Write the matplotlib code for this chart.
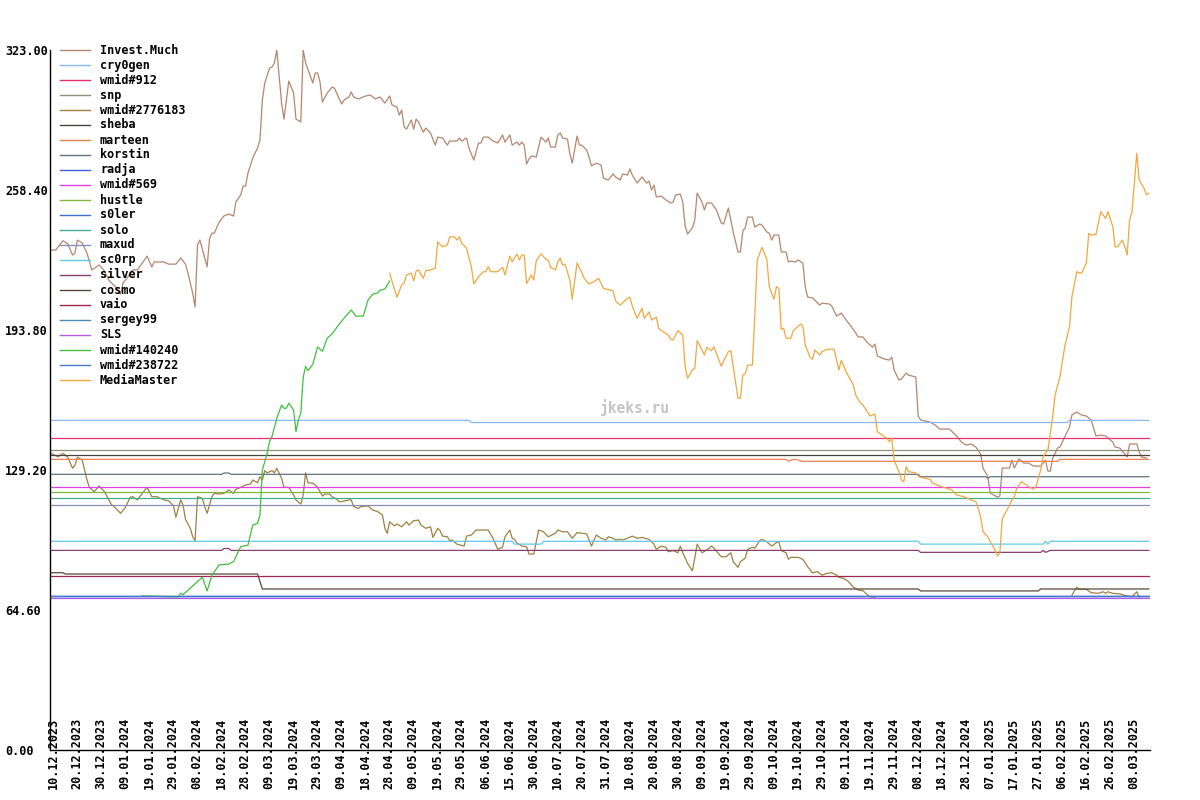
import matplotlib
matplotlib.use("Agg")
import matplotlib.pyplot as plt
from matplotlib.lines import Line2D

nan = float("nan")

# x is the point number (one point per recorded day, days with no data are skipped)
# (point, value)
invest_much = [(0, 230.7), (2, 230.7), (5, 235.0), (7, 233.5), (9, 228.4), (10, 229.3), (11, 235.3), (13, 233.9),
               (15, 229.3), (17, 221.5), (20, 223.8), (22, 221.5), (24, 216.9), (27, 213.6), (29, 210.4), (30, 215.5),
               (32, 218.2), (34, 221.5), (36, 221.5), (38, 224.7), (40, 227.9), (42, 222.9), (43, 225.2), (47, 225.2),
               (49, 224.2), (52, 224.2), (54, 227.0), (56, 224.2), (57, 220.1), (59, 210.8), (60, 204.4), (61, 233.0),
               (62, 235.3), (65, 222.9), (66, 235.8), (67, 238.5), (68, 238.5), (70, 243.6), (72, 246.4), (74, 247.3),
               (76, 246.4), (77, 252.9), (79, 256.1), (80, 260.2), (81, 260.2), (82, 266.2), (84, 273.2), (86, 277.8),
               (87, 281.5), (88, 299.9), (89, 307.8), (91, 314.7), (92, 315.1), (93, 317.0), (94, 323.0), (95, 310.5),
               (96, 298.5), (97, 291.1), (99, 308.7), (101, 303.1), (102, 291.1), (104, 289.8), (105, 323.0),
               (106, 317.0), (109, 307.8), (110, 312.4), (111, 312.4), (112, 308.2), (113, 299.0), (115, 303.1),
               (117, 305.9), (118, 305.4), (121, 298.1), (122, 299.9), (124, 301.3), (125, 303.6), (126, 301.3),
               (128, 300.4), (131, 301.8), (133, 302.2), (135, 300.4), (137, 301.3), (139, 298.5), (141, 301.8),
               (142, 297.6), (144, 296.7), (145, 293.0), (146, 295.3), (147, 287.5), (148, 286.5), (150, 290.7),
               (151, 286.5), (152, 291.1), (153, 289.8), (155, 285.1), (156, 287.0), (158, 284.7), (160, 279.1),
               (161, 282.8), (163, 282.4), (165, 279.1), (166, 281.0), (169, 281.0), (170, 282.4), (171, 281.0),
               (173, 282.4), (174, 277.8), (176, 272.2), (178, 280.1), (179, 280.1), (180, 282.8), (182, 282.8),
               (184, 281.0), (186, 280.1), (188, 283.8), (189, 280.5), (191, 283.8), (192, 279.1), (194, 280.5),
               (195, 279.1), (196, 280.5), (197, 279.1), (198, 270.4), (199, 272.7), (200, 274.1), (202, 273.6),
               (203, 278.2), (204, 282.8), (206, 280.5), (207, 282.4), (208, 278.2), (210, 278.2), (211, 283.8),
               (212, 284.7), (213, 282.4), (215, 281.9), (216, 275.1), (217, 270.8), (219, 283.3), (220, 279.1),
               (221, 279.1), (223, 276.8), (224, 273.6), (225, 269.5), (227, 270.8), (229, 269.9), (230, 263.9),
               (232, 263.0), (234, 265.8), (235, 264.4), (237, 263.0), (238, 265.8), (240, 265.3), (241, 268.1),
               (242, 265.3), (244, 261.6), (246, 264.4), (248, 261.6), (249, 262.5), (250, 258.4), (251, 260.7),
               (252, 255.2), (254, 255.6), (256, 253.8), (258, 252.4), (259, 252.8), (260, 256.1), (262, 256.5),
               (263, 252.8), (264, 241.8), (265, 238.1), (267, 240.9), (268, 244.5), (269, 257.0), (271, 252.8),
               (272, 249.2), (273, 252.4), (275, 252.4), (277, 249.2), (279, 243.2), (280, 242.7), (282, 250.1),
               (284, 239.0), (286, 229.8), (287, 229.8), (288, 239.5), (289, 240.9), (290, 245.9), (292, 245.9),
               (293, 241.3), (295, 242.7), (296, 242.2), (298, 239.0), (299, 238.5), (300, 235.3), (301, 237.6),
               (303, 237.6), (304, 229.8), (306, 229.8), (307, 225.2), (308, 225.6), (310, 225.2), (311, 226.1),
               (313, 224.7), (314, 213.6), (315, 209.0), (317, 208.6), (318, 207.6), (320, 205.3), (321, 206.2),
               (324, 205.8), (325, 204.9), (327, 200.2), (329, 201.6), (331, 198.4), (333, 195.6), (335, 192.4),
               (336, 190.6), (338, 190.6), (340, 187.8), (342, 185.9), (343, 187.3), (344, 181.8), (347, 180.4),
               (349, 179.9), (350, 181.3), (351, 175.3), (353, 170.7), (354, 171.2), (356, 173.9), (357, 173.0),
               (360, 172.1), (361, 154.1), (362, 152.3), (364, 151.8), (366, 151.3), (368, 150.0), (370, 148.1),
               (374, 148.1), (377, 144.9), (379, 142.1), (381, 140.7), (383, 141.2), (385, 139.8), (387, 136.6),
               (388, 130.1), (390, 126.0), (391, 118.6), (394, 116.7), (395, 117.2), (396, 130.1), (399, 130.1),
               (400, 133.8), (401, 130.1), (403, 134.3), (405, 132.4), (407, 132.4), (409, 131.0), (412, 131.0),
               (414, 133.8), (415, 128.7), (416, 128.7), (417, 134.7), (419, 139.3), (420, 139.8), (422, 144.4),
               (424, 149.0), (425, 154.6), (427, 156.0), (429, 154.6), (431, 154.1), (433, 152.3), (435, 144.9),
               (437, 145.3), (439, 144.9), (442, 142.1), (443, 139.8), (445, 139.3), (448, 135.2), (449, 141.2),
               (452, 141.2), (453, 137.5), (454, 135.2), (456, 134.7)]

wmid_2776183 = [(0, 136.9), (3, 135.3), (5, 136.9), (7, 135.1), (9, 130.0), (10, 131.5), (11, 135.1), (13, 133.8),
                (15, 124.6), (16, 121.2), (18, 119.2), (20, 121.8), (22, 119.6), (23, 117.7), (25, 113.5), (27, 111.5),
                (29, 109.2), (31, 112.0), (33, 116.6), (34, 116.9), (36, 115.4), (38, 118.4), (40, 121.2), (42, 116.9),
                (44, 116.9), (47, 115.4), (49, 115.0), (51, 112.6), (52, 107.4), (54, 115.4), (55, 113.0), (56, 106.4),
                (58, 102.3), (59, 98.4), (60, 96.6), (61, 116.9), (63, 116.1), (64, 112.3), (65, 109.2), (67, 116.9),
                (68, 118.4), (70, 118.1), (72, 118.4), (74, 120.0), (76, 118.4), (77, 120.3), (79, 121.2), (81, 122.3),
                (83, 122.7), (84, 124.6), (86, 123.3), (87, 126.1), (88, 124.6), (89, 128.9), (90, 127.9), (92, 128.9),
                (93, 127.9), (94, 130.0), (96, 125.4), (97, 121.2), (99, 121.2), (101, 117.7), (102, 115.4),
                (104, 113.5), (105, 117.7), (106, 127.9), (107, 123.3), (109, 123.1), (110, 122.3), (111, 121.2),
                (113, 117.2), (114, 118.1), (116, 118.1), (117, 116.9), (119, 115.7), (120, 114.6), (121, 114.6),
                (124, 115.4), (125, 115.4), (126, 112.3), (128, 111.5), (129, 112.3), (132, 112.6), (134, 110.7),
                (136, 110.0), (138, 108.4), (139, 102.3), (140, 100.0), (141, 105.3), (143, 103.4), (144, 104.3),
                (146, 103.0), (148, 105.3), (149, 103.8), (151, 105.8), (153, 106.1), (154, 103.8), (156, 102.3),
                (158, 103.0), (159, 98.1), (161, 102.3), (162, 101.2), (163, 98.7), (165, 98.4), (166, 96.6),
                (167, 96.9), (169, 95.0), (172, 94.1), (173, 98.7), (175, 99.2), (177, 101.5), (182, 101.5),
                (184, 97.7), (186, 92.6), (188, 93.6), (189, 98.4), (191, 101.5), (192, 97.7), (193, 97.2), (194, 95.4),
                (196, 94.1), (198, 93.8), (199, 90.4), (201, 90.4), (203, 101.5), (205, 100.7), (207, 98.4),
                (210, 100.0), (211, 101.5), (213, 100.7), (215, 100.7), (217, 97.7), (219, 100.3), (221, 100.0),
                (223, 99.7), (225, 94.1), (227, 99.2), (229, 97.7), (231, 96.9), (232, 98.4), (234, 97.7), (235, 96.9),
                (237, 97.2), (238, 96.9), (240, 97.7), (242, 98.7), (244, 97.7), (246, 98.1), (249, 97.2), (251, 95.0),
                (252, 92.6), (254, 94.1), (256, 93.5), (257, 91.5), (259, 92.0), (261, 91.0), (262, 94.1), (263, 91.0),
                (265, 86.1), (267, 82.7), (268, 88.5), (269, 95.0), (271, 91.0), (273, 92.3), (275, 94.1), (276, 93.1),
                (279, 89.2), (281, 89.2), (283, 91.0), (284, 86.9), (286, 84.3), (287, 86.9), (289, 88.5), (290, 92.6),
                (292, 93.6), (293, 93.1), (295, 96.6), (296, 97.2), (298, 96.1), (300, 94.1), (302, 95.7), (303, 96.1),
                (304, 92.0), (306, 91.0), (307, 88.0), (308, 88.9), (311, 88.9), (313, 88.0), (315, 84.6), (317, 81.7),
                (319, 82.3), (321, 80.7), (323, 81.5), (325, 81.8), (327, 80.7), (328, 79.7), (330, 79.2), (332, 77.7),
                (334, 75.2), (336, 73.8), (338, 73.5), (340, 71.5), (341, 70.7), (343, 70.5), (384, nan),
                (425, 71.5), (427, 75.1), (428, 74.1), (431, 74.1), (433, 72.6), (436, 72.3), (438, 73.0), (439, 72.3),
                (440, 73.0), (442, 72.3), (445, 72.0), (448, 71.1), (450, 70.7), (452, 73.0), (453, 70.5)]

wmid_140240 = [(38, 71.1), (53, 70.6), (54, 72.3), (55, 71.7), (63, 79.7), (65, 73.4), (67, 80.7), (70, 85.4),
               (74, 85.8), (76, 86.9), (77, 89.2), (79, 93.8), (82, 94.5), (84, 103.8), (86, 104.6), (87, 108.4),
               (88, 129.2), (90, 136.9), (91, 142.3), (92, 144.6), (94, 153.0), (96, 159.2), (97, 157.7), (98, 157.7),
               (99, 160.0), (101, 156.9), (102, 146.9), (103, 152.3), (104, 155.4), (105, 172.0), (106, 177.0),
               (107, 175.0), (109, 178.0), (111, 186.0), (113, 184.0), (115, 190.0), (117, 192.0), (119, 195.0),
               (122, 199.3), (125, 203.0), (127, 200.2), (130, 200.2), (132, 207.6), (134, 210.4), (136, 210.9),
               (137, 212.2), (139, 212.7), (141, 216.4)]

media_master = [(141, 220.0), (144, 208.9), (146, 214.6), (147, 215.3), (148, 219.2), (150, 220.0), (151, 216.5),
                (152, 221.0), (153, 221.5), (155, 217.6), (156, 221.2), (158, 221.5), (160, 222.3), (161, 234.5),
                (163, 232.2), (165, 233.0), (166, 236.8), (168, 236.8), (169, 235.3), (170, 236.8), (171, 233.8),
                (173, 231.5), (175, 223.0), (176, 215.0), (178, 218.4), (180, 220.7), (181, 220.7), (182, 223.0),
                (183, 220.7), (186, 220.7), (188, 222.7), (189, 219.2), (191, 227.9), (192, 225.3), (194, 228.9),
                (195, 226.1), (196, 228.4), (197, 228.4), (198, 215.3), (199, 217.2), (200, 219.2), (201, 216.9),
                (202, 225.8), (204, 228.9), (206, 226.4), (207, 226.1), (208, 222.7), (210, 221.5), (211, 225.3),
                (212, 226.9), (213, 223.8), (214, 224.2), (216, 216.9), (217, 208.0), (219, 224.8), (221, 220.2),
                (222, 217.6), (224, 215.0), (226, 216.1), (228, 217.6), (230, 213.0), (234, 211.9), (235, 207.3),
                (237, 205.3), (240, 208.4), (241, 208.9), (242, 204.9), (244, 199.2), (246, 203.8), (247, 199.2),
                (249, 202.2), (250, 198.4), (252, 199.7), (253, 194.6), (254, 193.5), (257, 191.5), (258, 189.5),
                (259, 189.2), (261, 193.5), (263, 191.5), (264, 176.9), (265, 171.5), (267, 175.3), (268, 176.1),
                (269, 188.9), (272, 182.3), (273, 185.8), (275, 184.2), (276, 186.1), (277, 183.0), (279, 177.2),
                (282, 183.8), (283, 184.2), (286, 162.3), (287, 162.3), (288, 173.0), (289, 173.5), (290, 177.6),
                (292, 177.6), (293, 200.7), (294, 226.1), (296, 231.9), (298, 226.4), (299, 213.8), (301, 208.0),
                (302, 213.8), (303, 213.0), (304, 194.1), (305, 194.6), (306, 190.0), (308, 190.0), (309, 193.5),
                (312, 196.6), (313, 195.6), (314, 186.9), (316, 181.2), (317, 180.3), (318, 184.6), (320, 182.3),
                (321, 183.8), (323, 184.9), (326, 184.9), (328, 175.3), (329, 179.9), (331, 174.5), (334, 168.4),
                (335, 163.8), (337, 160.0), (338, 159.2), (341, 154.1), (343, 155.0), (344, 146.9), (346, 145.3),
                (348, 143.8), (349, 142.3), (350, 143.8), (351, 133.8), (353, 128.4), (354, 124.6), (355, 123.8),
                (356, 130.7), (357, 128.4), (360, 127.9), (361, 126.4), (362, 125.8), (366, 124.9), (367, 123.1),
                (368, 122.7), (370, 121.8), (373, 120.7), (375, 120.0), (377, 117.7), (380, 116.9), (383, 115.4),
                (385, 114.6), (386, 111.5), (387, 107.6), (388, 100.7), (390, 98.4), (391, 96.1), (393, 92.3),
                (394, 89.5), (395, 90.8), (396, 106.9), (398, 110.7), (400, 115.4), (401, 116.9), (402, 120.7),
                (404, 123.8), (405, 123.1), (407, 121.5), (409, 120.3), (410, 121.5), (412, 129.2), (413, 135.3),
                (415, 138.4), (416, 146.1), (417, 153.8), (418, 163.8), (420, 172.2), (422, 186.1), (424, 195.3),
                (425, 209.2), (427, 220.7), (428, 220.2), (429, 220.0), (431, 224.6), (432, 238.4), (433, 237.6),
                (435, 237.9), (437, 248.4), (439, 245.3), (440, 248.4), (442, 241.5), (443, 232.2), (444, 232.2),
                (446, 235.3), (447, 232.2), (448, 228.4), (449, 244.5), (450, 248.4), (452, 275.3), (453, 263.0),
                (455, 259.2), (456, 256.1), (457, 256.9)]

# near-flat series
cry0gen = [(0, 152.1), (174, 152.1), (175, 151.1), (423, 151.1), (424, 152.1), (457, 152.1)]
wmid_912 = [(0, 144.1), (457, 144.1)]
snp = [(0, 138.3), (457, 138.3)]
sheba = [(0, 136.0), (457, 136.0)]
marteen = [(0, 134.1), (306, 134.1), (307, 133.3), (309, 134.1), (310, 134.1), (313, 133.2), (419, 133.2),
           (420, 134.1), (457, 134.1)]
korstin = [(0, 127.2), (71, 127.2), (72, 127.8), (74, 127.8), (75, 127.2), (361, 127.2), (362, 126.1),
           (389, 126.1), (390, 125.4), (391, 126.1), (457, 126.1)]
radja = [(0, 70.9), (457, 70.9)]
wmid_569 = [(0, 121.2), (457, 121.2)]
hustle = [(0, 118.9), (457, 118.9)]
s0ler = [(0, 70.9), (457, 70.9)]
solo = [(0, 116.1), (457, 116.1)]
maxud = [(0, 112.9), (457, 112.9)]
sc0rp = [(0, 96.3), (192, 96.3), (193, 95.0), (204, 95.0), (205, 96.3), (361, 96.3), (362, 95.0),
         (413, 95.0), (414, 96.3), (415, 95.0), (416, 96.3), (457, 96.3)]
silver = [(0, 92.1), (71, 92.1), (72, 93.0), (74, 93.0), (75, 92.1), (361, 92.1), (362, 91.2),
          (412, 91.2), (413, 92.1), (414, 91.2), (416, 92.1), (457, 92.1)]
cosmo = [(0, 81.8), (5, 81.8), (6, 81.2), (86, 81.2), (88, 74.3), (361, 74.3), (362, 73.4),
         (411, 73.4), (412, 74.3), (457, 74.3)]
vaio = [(0, 80.1), (457, 80.1)]
sergey99 = [(0, 70.9), (457, 70.9)]
sls = [(0, 70.0), (457, 70.0)]
wmid_238722 = [(0, 70.9), (457, 70.9)]

series = [
    ("Invest.Much", invest_much, "#b5866e"),
    ("cry0gen", cry0gen, "#8ab8f0"),
    ("wmid#912", wmid_912, "#e8306e"),
    ("snp", snp, "#8c9478"),
    ("wmid#2776183", wmid_2776183, "#a08040"),
    ("sheba", sheba, "#4a4440"),
    ("marteen", marteen, "#f08050"),
    ("korstin", korstin, "#607480"),
    ("radja", radja, "#4060e0"),
    ("wmid#569", wmid_569, "#e040e8"),
    ("hustle", hustle, "#80b840"),
    ("s0ler", s0ler, "#4070d8"),
    ("solo", solo, "#40b090"),
    ("maxud", maxud, "#8890b8"),
    ("sc0rp", sc0rp, "#60c8e8"),
    ("silver", silver, "#884070"),
    ("cosmo", cosmo, "#584838"),
    ("vaio", vaio, "#a02850"),
    ("sergey99", sergey99, "#5088b0"),
    ("SLS", sls, "#b060e8"),
    ("wmid#140240", wmid_140240, "#40c040"),
    ("wmid#238722", wmid_238722, "#4878d0"),
    ("MediaMaster", media_master, "#f0a840"),
]

y_ticks = [0, 64.6, 129.2, 193.8, 258.4, 323.0]
x_tick_labels = ["10.12.2023", "20.12.2023", "30.12.2023", "09.01.2024", "19.01.2024", "29.01.2024",
                 "08.02.2024", "18.02.2024", "28.02.2024", "09.03.2024", "19.03.2024", "29.03.2024",
                 "09.04.2024", "18.04.2024", "28.04.2024", "09.05.2024", "19.05.2024", "29.05.2024",
                 "06.06.2024", "15.06.2024", "30.06.2024", "10.07.2024", "20.07.2024", "31.07.2024",
                 "10.08.2024", "20.08.2024", "30.08.2024", "09.09.2024", "19.09.2024", "29.09.2024",
                 "09.10.2024", "19.10.2024", "29.10.2024", "09.11.2024", "19.11.2024", "29.11.2024",
                 "08.12.2024", "18.12.2024", "28.12.2024", "07.01.2025", "17.01.2025", "27.01.2025",
                 "06.02.2025", "16.02.2025", "26.02.2025", "08.03.2025"]
x_ticks = [10 * i for i in range(len(x_tick_labels))]

FONT = "DejaVu Sans Mono"
FS = 8.5

fig = plt.figure(figsize=(12, 8), dpi=100)
ax = fig.add_axes([50 / 1200, 50 / 800, 1100 / 1200, 700 / 800])

for name, pts, color in series:
    d, v = zip(*pts)
    ax.plot(d, v, color=color, lw=0.9)

ax.set_xlim(-0.4, 457.5)
ax.set_ylim(0, 323)
for s in ("top", "right"):
    ax.spines[s].set_visible(False)
for s in ("left", "bottom"):
    ax.spines[s].set_linewidth(1.0)
    ax.spines[s].set_color("black")
    ax.spines[s].set_zorder(5)

ax.set_yticks(y_ticks)
ax.set_yticklabels(["%.2f" % t for t in y_ticks], fontfamily=FONT, fontweight="bold", fontsize=FS)
for lab in ax.get_yticklabels():
    lab.set_horizontalalignment("left")
ax.tick_params(axis="y", length=0, pad=32.4)

ax.set_xticks([d + 0.8 for d in x_ticks])
ax.set_xticklabels(x_tick_labels, rotation=90, fontfamily=FONT, fontweight="bold", fontsize=FS)
ax.tick_params(axis="x", length=0, pad=-23.5)

# watermark
ax.text(0.532, 0.489, "jkeks.ru", transform=ax.transAxes, ha="center", va="center",
        fontfamily=FONT, fontweight="bold", fontsize=10.5, color="#c4c4c4")

# legend drawn row by row
for i, (name, pts, color) in enumerate(series):
    y = 1 - (50 + 15 * i) / 800
    fig.add_artist(Line2D([60 / 1200, 90 / 1200], [y, y], color=color, lw=1.0))
    fig.text(100 / 1200, y, name, va="center", ha="left", fontfamily=FONT,
             fontweight="bold", fontsize=FS)

fig.savefig("out.png", dpi=100)
